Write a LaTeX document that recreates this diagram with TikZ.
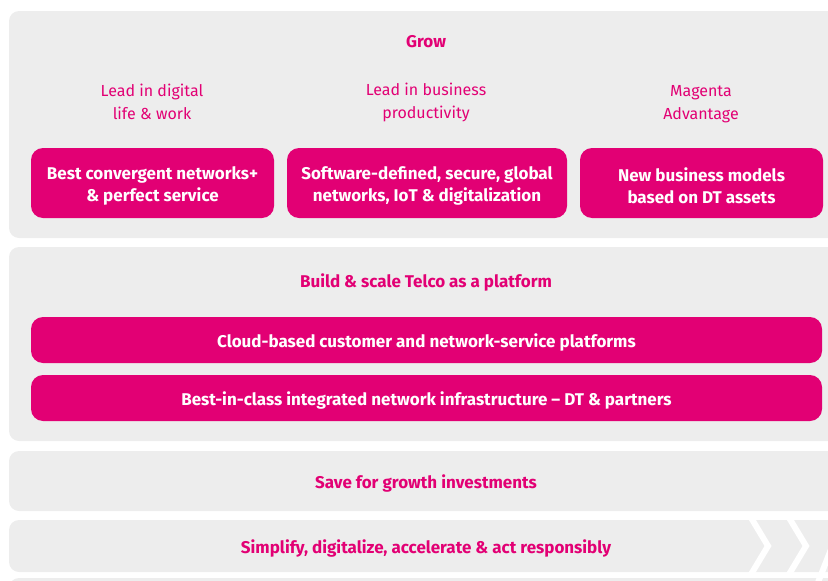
\documentclass[tikz,border=0pt]{standalone}
\usepackage{fontspec}
\setmainfont{Fira Sans}
\usepackage{xcolor}
\usepackage{tikz}

\definecolor{tmagenta}{HTML}{E20074}
\definecolor{panelgray}{HTML}{EDEDED}

\tikzset{
    panel/.style={fill=panelgray, rounded corners=10pt},
    magbox/.style={fill=tmagenta, rounded corners=12pt, inner sep=0pt},
    boxtxt/.style={text=white, align=center, font=\bfseries\fontsize{17}{22}\selectfont},
    headtxt/.style={text=tmagenta, align=center, font=\bfseries\fontsize{17}{22}\selectfont},
    subtxt/.style={text=tmagenta, align=center, font=\fontsize{16}{23}\selectfont},
    chevron/.style={white, line width=6pt}
}

\begin{document}
\begin{tikzpicture}[x=1pt, y=-1pt]
        \useasboundingbox (0, 0) rectangle (828, 581);
        \clip (0, 0) rectangle (828, 581);

        % panels
        \fill[panel] (9, 11) rectangle (860, 238);
        \fill[panel] (9, 247) rectangle (860, 441);
        \fill[panel] (9, 451) rectangle (860, 511);
        \fill[panel] (9, 520) rectangle (860, 572);
        \fill[panel] (9, 578) rectangle (860, 620);

        % grow
        \node[headtxt] (grow) at (426, 42) {Grow};
        \node[subtxt] (lead-digital) at (152, 102) {Lead in digital\\life \& work};
        \node[subtxt] (lead-business) at (426, 102) {Lead in business\\productivity};
        \node[subtxt] (magenta-adv) at (701, 104) {Magenta\\Advantage};

        \node[magbox, minimum width=243pt, minimum height=70pt] (convergent) at (152.5, 183) {};
        \node[boxtxt] (convergent-txt) at ([yshift=-3pt]convergent.center)
            {Best convergent networks+\\\& perfect service};
        \node[magbox, minimum width=280pt, minimum height=70pt] (software) at (427, 183) {};
        \node[boxtxt] (software-txt) at ([yshift=-3pt]software.center)
            {Software-defined, secure, global\\networks, IoT \& digitalization};
        \node[magbox, minimum width=243pt, minimum height=70pt] (models) at (701.5, 183) {};
        \node[boxtxt] (models-txt) at ([yshift=-3pt]models.center)
            {New business models\\based on DT assets};

        % build & scale
        \node[headtxt] (build) at (426, 282) {Build \& scale Telco as a platform};
        \node[magbox, minimum width=791pt, minimum height=46pt] (cloud) at (426.5, 340) {};
        \node[boxtxt] (cloud-txt) at ([yshift=-2pt]cloud.center)
            {Cloud-based customer and network-service platforms};
        \node[magbox, minimum width=791pt, minimum height=46pt] (infra) at (426.5, 398) {};
        \node[boxtxt] (infra-txt) at ([yshift=-2pt]infra.center)
            {Best-in-class integrated network infrastructure -- DT \& partners};

        % save
        \node[headtxt] (save) at (426, 483) {Save for growth investments};

        % simplify
        \node[headtxt] (simplify) at (426, 548) {Simplify, digitalize, accelerate \& act responsibly};
        \draw[chevron] (750, 516) -- (768, 546) -- (750, 576);
        \draw[chevron] (788, 516) -- (806, 546) -- (788, 576);
        \draw[chevron] (841, 524) -- (815, 590);
\end{tikzpicture}
\end{document}
